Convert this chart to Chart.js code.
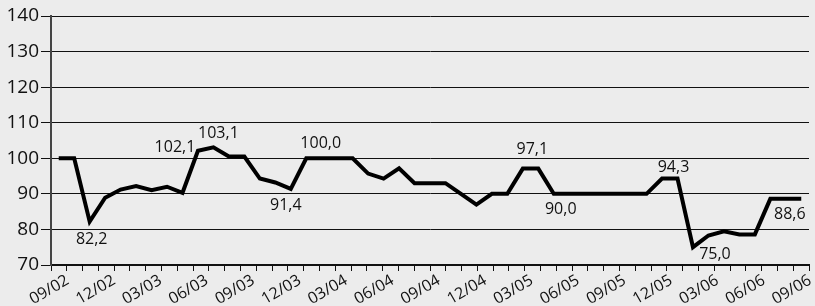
<!DOCTYPE html>
<html>
<head>
<meta charset="utf-8">
<script src="https://cdn.jsdelivr.net/npm/chart.js@4/dist/chart.umd.min.js"></script>
<style>
  html, body { margin: 0; padding: 0; background: #ececec; }
  #wrap { width: 815px; height: 306px; }
</style>
</head>
<body>
<div id="wrap"><canvas id="indexChart"></canvas></div>
<script>
// Monthly index, 09/02 .. 09/06
const values = [
    100.0, 100.0, 82.2, 88.9, 91.2, 92.2, 91.0, 92.0, 90.3, 102.1,
    103.1, 100.5, 100.5, 94.3, 93.2, 91.4, 100.0, 100.0, 100.0, 100.0,
    95.7, 94.3, 97.2, 93.0, 93.0, 93.0, 90.0, 87.0, 90.0, 90.0,
    97.1, 97.1, 90.0, 90.0, 90.0, 90.0, 90.0, 90.0, 90.0, 94.3,
    94.3, 75.0, 78.3, 79.5, 78.6, 78.6, 88.6, 88.6, 88.6
];

// Quarter labels, one for every third month
const tickLabels = [
    '09/02', '12/02', '03/03', '06/03', '09/03', '12/03', '03/04', '06/04', '09/04',
    '12/04', '03/05', '06/05', '09/05', '12/05', '03/06', '06/06', '09/06'
];

// Points that carry a value label
const labelIndexes = [2, 9, 10, 15, 17, 31, 32, 40, 41, 47];
// label offsets from the point (px)
const labelOffsets = [[2, 18], [-23, -3], [5, -14], [-5, 17], [-1, -15], [-6, -19], [7, 16], [-4, -11], [22, 7], [4, 16]];

const fontFamily = '"Open Sans", sans-serif';

const valueLabels = {
    id: 'valueLabels',
    afterDatasetsDraw(chart) {
        const ctx = chart.ctx;
        const meta = chart.getDatasetMeta(0);
        ctx.save();
        ctx.font = '16px ' + fontFamily;
        ctx.fillStyle = '#111';
        ctx.textAlign = 'center';
        ctx.textBaseline = 'middle';
        labelIndexes.forEach((idx, k) => {
            const pt = meta.data[idx];
            const text = values[idx].toFixed(1).replace('.', ',');
            ctx.fillText(text, pt.x + labelOffsets[k][0], pt.y + labelOffsets[k][1]);
        });
        ctx.restore();
    }
};

const noSidePadding = scale => { scale.paddingLeft = 0; scale.paddingRight = 0; };

const ctx = document.getElementById('indexChart').getContext('2d');
new Chart(ctx, {
    type: 'line',
    data: {
        datasets: [{
            data: values.map((v, i) => ({ x: i + 0.5, y: v })),
            borderColor: '#000',
            borderWidth: 4,
            pointRadius: 0,
            tension: 0,
            fill: false
        }]
    },
    options: {
        responsive: true,
        maintainAspectRatio: false,
        animation: false,
        layout: { padding: { top: 16, right: 6, left: 0, bottom: 0 } },
        plugins: { legend: { display: false }, tooltip: { enabled: false } },
        scales: {
            // tick marks along the bottom axis
            x: {
                type: 'linear',
                position: 'bottom',
                weight: 0,
                min: 0,
                max: values.length,
                border: { color: '#111', width: 2 },
                grid: { drawOnChartArea: false, drawTicks: true, tickLength: 6, color: '#111' },
                afterBuildTicks: axis => {
                    const n = (tickLabels.length - 1) * 3;
                    const ticks = [];
                    for (let k = 0; k <= n; k++) ticks.push({ value: k * values.length / n });
                    axis.ticks = ticks;
                },
                ticks: { display: false },
                afterFit: scale => { scale.height = 0; noSidePadding(scale); }
            },
            // quarter labels
            xLabels: {
                type: 'linear',
                position: 'bottom',
                weight: 1,
                min: 0,
                max: values.length,
                border: { display: false },
                grid: { display: false },
                afterBuildTicks: axis => {
                    axis.ticks = tickLabels.map((t, k) => ({ value: k * 3 + 0.5 }));
                },
                ticks: {
                    autoSkip: false,
                    minRotation: 30,
                    maxRotation: 30,
                    padding: -2,
                    labelOffset: 9,
                    color: '#111',
                    font: { family: fontFamily, size: 16 },
                    callback: (value, index) => tickLabels[index]
                },
                afterFit: scale => { scale.height = 41; noSidePadding(scale); }
            },
            y: {
                min: 70,
                max: 140,
                border: { color: '#444', width: 2 },
                grid: { color: '#111', lineWidth: 1, tickLength: 10 },
                ticks: {
                    stepSize: 10,
                    padding: 2,
                    color: '#111',
                    font: { family: fontFamily, size: 19 }
                },
                afterFit: scale => { scale.width = 51; }
            }
        }
    },
    plugins: [valueLabels]
});
</script>
</body>
</html>
